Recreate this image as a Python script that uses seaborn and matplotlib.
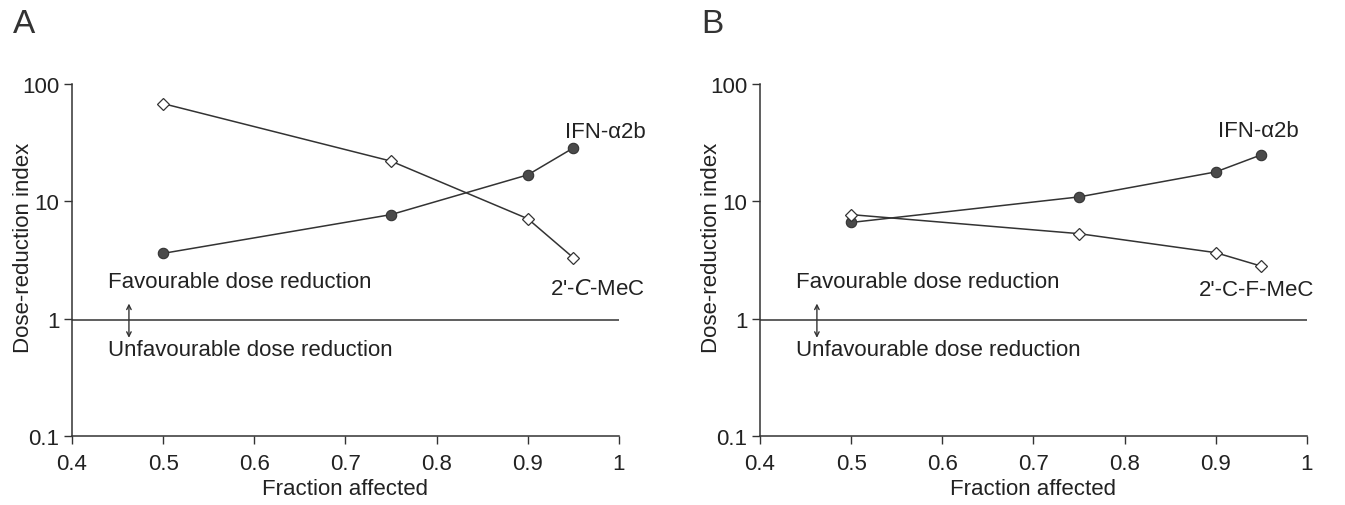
import pandas as pd
import matplotlib
matplotlib.use("Agg")
import matplotlib.pyplot as plt
import seaborn as sns

# Data
fraction = [0.5, 0.75, 0.9, 0.95]
a_ifn = [3.6, 7.7, 16.8, 28.5]
a_mec = [68.0, 22.0, 7.1, 3.3]
b_ifn = [6.6, 10.9, 17.8, 24.9]
b_fmec = [7.7, 5.3, 3.65, 2.8]

x_ticks = [0.4, 0.5, 0.6, 0.7, 0.8, 0.9, 1.0]
x_tick_labels = ["0.4", "0.5", "0.6", "0.7", "0.8", "0.9", "1"]
y_ticks = [0.1, 1, 10, 100]
y_tick_labels = ["0.1", "1", "10", "100"]

sns.set_style("ticks")
plt.rcParams["font.family"] = ["Liberation Sans", "DejaVu Sans"]

ink = "#333333"
txt = "#222222"
fs = 16

fig = plt.figure(figsize=(13.45, 5.06), dpi=100)
ax_a = fig.add_axes([0.0535, 0.1364, 0.4067, 0.6957])
ax_b = fig.add_axes([0.5650, 0.1364, 0.4067, 0.6957])


def draw_panel(ax, ifn, other, other_label, letter, ifn_lab, other_lab):
    df = pd.DataFrame({"Fraction affected": fraction, "ifn": ifn, "other": other})
    sns.lineplot(data=df, x="Fraction affected", y="ifn", ax=ax, color=ink,
                 lw=1.1, marker="o", markersize=7.5, markerfacecolor="#4a4a4a",
                 markeredgecolor="#333333", markeredgewidth=0.8)
    sns.lineplot(data=df, x="Fraction affected", y="other", ax=ax, color=ink,
                 lw=1.1, marker="D", markersize=6.3, markerfacecolor="white",
                 markeredgecolor="#333333", markeredgewidth=0.9)
    ax.axhline(0.98, color=ink, lw=1.1)
    ax.set_yscale("log")
    ax.set_xlim(0.4, 1.0)
    ax.set_ylim(0.1, 100)
    ax.set_xticks(x_ticks)
    ax.set_xticklabels(x_tick_labels)
    ax.set_yticks(y_ticks)
    ax.set_yticklabels(y_tick_labels)
    ax.yaxis.set_minor_locator(matplotlib.ticker.NullLocator())
    ax.tick_params(axis="both", labelsize=fs, colors=ink, length=6,
                   width=1.0, direction="out", labelcolor=txt)
    ax.tick_params(axis="x", pad=6)
    ax.tick_params(axis="y", pad=3)
    for s in ["left", "bottom"]:
        ax.spines[s].set_color(ink)
        ax.spines[s].set_linewidth(1.1)
    sns.despine(ax=ax)
    ax.set_xlabel("Fraction affected", fontsize=fs, color=txt)
    ax.set_ylabel("Dose-reduction index", fontsize=fs, color=txt)
    ax.xaxis.set_label_coords(0.5, -0.12)
    ax.yaxis.set_label_coords(-0.07, 0.537)

    ax.text(0.4395, 2.07, "Favourable dose reduction", fontsize=fs,
            color=txt, va="center", ha="left")
    ax.text(0.4395, 0.55, "Unfavourable dose reduction", fontsize=fs,
            color=txt, va="center", ha="left")
    ax.annotate("", xy=(0.4625, 1.42), xytext=(0.4625, 0.65),
                arrowprops=dict(arrowstyle="<->", color=ink, lw=1.0,
                                mutation_scale=8))
    ax.text(ifn_lab[0], ifn_lab[1], "IFN-α2b", fontsize=fs, color=txt,
            ha="center", va="center", clip_on=False)
    ax.text(other_lab[0], other_lab[1], other_label, fontsize=fs, color=txt,
            ha="center", va="center", clip_on=False)
    ax.text(-0.108, 1.173, letter, transform=ax.transAxes, fontsize=24,
            color="#333333", ha="left", va="center")


draw_panel(ax_a, a_ifn, a_mec, "2'-$\\it{C}$-MeC", "A", (0.9846, 39), (0.977, 1.8))
draw_panel(ax_b, b_ifn, b_fmec, "2'-C-F-MeC", "B", (0.947, 40), (0.945, 1.78))

fig.savefig("out.png", dpi=100)
